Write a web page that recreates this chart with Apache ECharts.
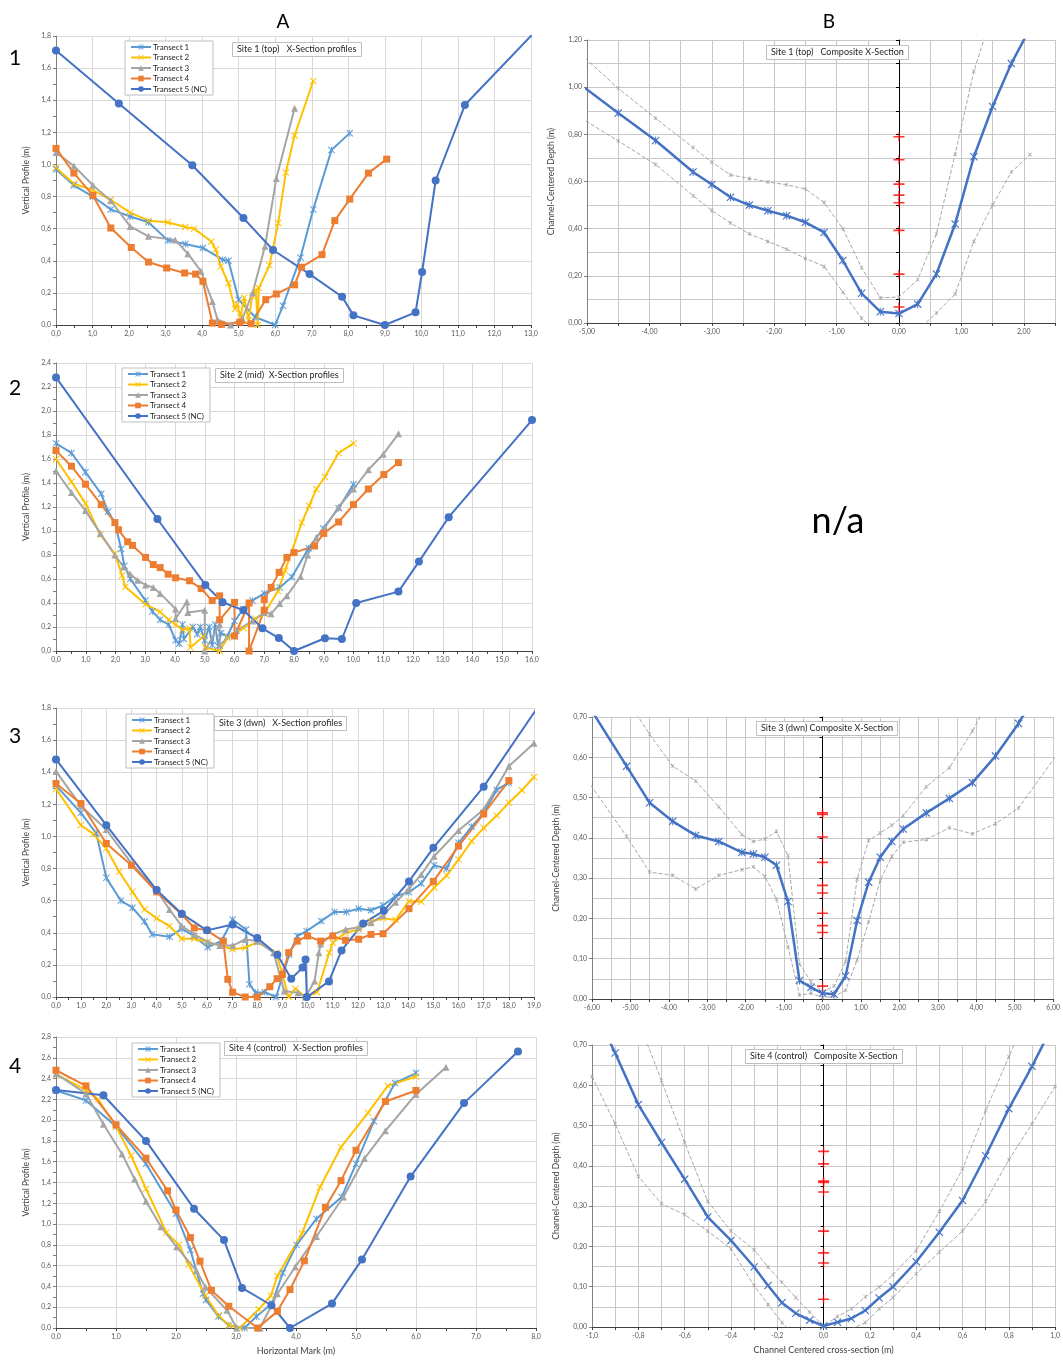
<!DOCTYPE html>
<html>
<head>
<meta charset="utf-8">
<script src="https://cdn.jsdelivr.net/npm/echarts@6/dist/echarts.min.js"></script>
<style>
html,body{margin:0;padding:0;background:#fff;}
#chart{width:1063px;height:1360px;}
</style>
</head>
<body>
<div id="chart"></div>
<script>
// ---- Site 1 (top) transects [horizontal mark, vertical profile]
const s1_t1 = [[0,0.97],[0.49,0.87],[1.01,0.80],[1.5,0.72],[2.03,0.676],[2.53,0.64],[3.06,0.527],[3.54,0.504],[4.02,0.48],[4.56,0.407],[4.72,0.40],[5.0,0.157],[5.45,0.05],[6.0,0.0],[6.21,0.12],[6.69,0.42],[7.04,0.72],[7.54,1.09],[8.04,1.195]];
const s1_t2 = [[0,0.98],[0.49,0.88],[1.01,0.84],[1.5,0.78],[2.03,0.70],[2.53,0.65],[3.06,0.64],[3.54,0.61],[3.78,0.60],[4.25,0.52],[4.37,0.47],[4.51,0.365],[4.72,0.26],[4.9,0.10],[4.96,0.13],[5.05,0.05],[5.15,0.17],[5.27,0.03],[5.37,0.18],[5.47,0.22],[5.52,0.0],[5.55,0.23],[5.84,0.37],[6.08,0.635],[6.29,0.95],[6.53,1.18],[7.04,1.52]];
const s1_t3 = [[0,1.075],[0.49,0.99],[1.01,0.87],[1.5,0.774],[2.03,0.614],[2.53,0.552],[3.26,0.53],[3.61,0.444],[3.97,0.334],[4.28,0.147],[4.42,0.033],[4.78,0.0],[5.1,0.04],[5.38,0.2],[5.72,0.49],[6.03,0.913],[6.53,1.35]];
const s1_t4 = [[0,1.10],[0.49,0.946],[1.01,0.807],[1.5,0.604],[2.06,0.483],[2.53,0.392],[3.03,0.355],[3.52,0.324],[3.82,0.317],[4.02,0.272],[4.28,0.012],[4.53,0.004],[5.03,0.017],[5.34,0.008],[5.74,0.158],[6.03,0.193],[6.53,0.25],[6.72,0.36],[7.28,0.438],[7.63,0.65],[8.04,0.784],[8.55,0.946],[9.05,1.033]];
const s1_t5 = [[0,1.71],[1.72,1.38],[3.73,0.995],[5.13,0.666],[5.94,0.467],[6.94,0.317],[7.83,0.176],[8.14,0.06],[9.0,0.0],[9.84,0.079],[10.02,0.33],[10.39,0.90],[11.19,1.37],[13.5,1.92]];

// ---- Site 1 composite (channel centered)
const c1_x   = [-5.1,-4.5,-3.9,-3.3,-3.0,-2.7,-2.4,-2.1,-1.8,-1.5,-1.2,-0.9,-0.6,-0.3,0,0.3,0.6,0.9,1.2,1.5,1.8,2.1];
const c1_mid = [1.01,0.89,0.774,0.64,0.587,0.533,0.50,0.476,0.455,0.427,0.384,0.265,0.126,0.048,0.04,0.08,0.208,0.42,0.705,0.918,1.10,1.25];
const c1_hi  = [1.14,0.995,0.868,0.744,0.682,0.628,0.613,0.598,0.586,0.568,0.511,0.40,0.235,0.107,0.11,0.184,0.378,0.717,1.067,1.32,1.6,1.85];
const c1_lo  = [0.87,0.772,0.672,0.54,0.477,0.424,0.378,0.346,0.313,0.274,0.24,0.131,0.02,-0.05,-0.06,-0.03,0.042,0.123,0.346,0.50,0.64,0.714];
const c1_red = [0.79,0.692,0.589,0.542,0.51,0.393,0.207,0.068];

// ---- Site 2 (mid) transects
const s2_t1 = [[0,1.73],[0.52,1.65],[0.99,1.49],[1.52,1.31],[1.75,1.16],[1.98,1.07],[2.19,0.85],[2.3,0.71],[2.5,0.60],[3.01,0.42],[3.24,0.33],[3.5,0.26],[3.79,0.22],[4.02,0.09],[4.14,0.06],[4.25,0.22],[4.3,0.1],[4.6,0.2],[4.75,0.14],[4.85,0.2],[5.0,0.09],[5.15,0.2],[5.25,0.05],[5.35,0.22],[5.45,0.04],[5.55,0.15],[5.75,0.12],[6.0,0.25],[6.3,0.35],[6.6,0.42],[7.0,0.48],[7.52,0.53],[7.93,0.617],[8.49,0.857],[8.98,1.02],[9.5,1.19],[10.0,1.39]];
const s2_t2 = [[0,1.60],[0.52,1.41],[0.99,1.23],[1.49,0.97],[1.98,0.81],[2.22,0.63],[2.33,0.535],[3.01,0.39],[3.5,0.326],[3.79,0.26],[4.02,0.22],[4.26,0.178],[4.49,0.19],[4.52,0.03],[4.95,0.12],[5.02,0.03],[5.5,0.0],[5.77,0.11],[6.3,0.19],[6.7,0.27],[7.0,0.31],[7.46,0.50],[7.7,0.67],[8.26,1.07],[8.51,1.21],[8.75,1.35],[9.04,1.45],[9.5,1.65],[10.0,1.73]];
const s2_t3 = [[0,1.5],[0.52,1.32],[0.99,1.17],[1.49,0.98],[1.98,0.80],[2.27,0.70],[2.5,0.64],[2.74,0.59],[3.01,0.55],[3.27,0.53],[3.5,0.48],[4.02,0.35],[4.02,0.27],[4.4,0.41],[4.43,0.32],[5.0,0.34],[5.0,0.0],[5.5,0.22],[5.5,0.05],[6.07,0.17],[6.6,0.25],[7.0,0.32],[7.23,0.31],[7.52,0.395],[7.76,0.46],[8.22,0.62],[8.46,0.80],[8.75,0.945],[9.04,1.03],[9.5,1.2],[10.0,1.35],[10.5,1.51],[11.0,1.64],[11.51,1.81]];
const s2_t4 = [[0,1.67],[0.52,1.54],[0.99,1.39],[1.52,1.22],[1.98,1.07],[2.1,1.01],[2.41,0.91],[2.57,0.88],[3.01,0.78],[3.27,0.72],[3.5,0.695],[3.77,0.64],[4.02,0.61],[4.49,0.585],[4.88,0.52],[5.25,0.42],[5.5,0.46],[5.5,0.26],[6.0,0.405],[6.0,0.125],[6.49,0.40],[6.49,0.0],[7.0,0.34],[7.0,0.43],[7.23,0.53],[7.5,0.655],[7.76,0.78],[8.0,0.82],[8.69,0.875],[9.0,0.98],[9.5,1.075],[10.0,1.22],[10.5,1.35],[11.02,1.47],[11.51,1.57]];
const s2_t5 = [[0,2.28],[3.41,1.10],[5.02,0.551],[5.6,0.406],[6.3,0.34],[6.94,0.189],[7.49,0.108],[8.0,0.0],[9.04,0.106],[9.61,0.10],[10.09,0.40],[11.51,0.495],[12.2,0.745],[13.2,1.115],[16.0,1.924]];

// ---- Site 3 (dwn) transects
const s3_t1 = [[0,1.317],[0.99,1.147],[1.6,1.02],[2.0,0.742],[2.58,0.60],[3.04,0.556],[3.52,0.47],[3.82,0.39],[4.51,0.375],[5.0,0.425],[5.48,0.38],[6.03,0.31],[6.58,0.35],[7.02,0.483],[7.55,0.42],[7.69,0.08],[7.93,0.027],[8.3,0.03],[8.75,0.0],[9.27,0.265],[9.59,0.38],[9.96,0.41],[10.54,0.473],[11.07,0.53],[11.55,0.53],[12.03,0.55],[12.52,0.54],[13.0,0.57],[13.48,0.628],[14.03,0.653],[14.52,0.707],[15.03,0.82],[15.53,0.80],[16.0,0.96],[16.52,1.06],[17.0,1.147],[17.52,1.29],[18.0,1.335]];
const s3_t2 = [[0,1.296],[0.99,1.07],[1.48,1.016],[2.0,0.925],[2.51,0.78],[3.04,0.655],[3.52,0.545],[4.0,0.49],[4.51,0.442],[5.0,0.363],[5.5,0.363],[6.03,0.342],[7.02,0.297],[7.52,0.307],[8.0,0.342],[8.75,0.276],[9.25,0.0],[9.51,0.052],[9.92,0.0],[10.38,0.03],[10.86,0.276],[11.0,0.338],[11.5,0.40],[12.03,0.42],[12.52,0.47],[13.0,0.49],[13.5,0.48],[14.03,0.597],[14.52,0.593],[15.03,0.68],[15.53,0.757],[16.0,0.856],[16.52,0.97],[17.0,1.053],[17.52,1.13],[18.0,1.21],[18.52,1.288],[19.0,1.37]];
const s3_t3 = [[0,1.405],[0.99,1.19],[2.0,1.043],[3.04,0.825],[4.0,0.664],[4.51,0.545],[5.0,0.442],[5.5,0.39],[6.03,0.344],[6.51,0.32],[7.02,0.32],[7.52,0.358],[8.0,0.348],[8.65,0.276],[9.07,0.037],[9.62,0.027],[9.92,0.0],[10.28,0.10],[10.45,0.276],[10.52,0.33],[11.0,0.39],[11.51,0.42],[12.03,0.435],[12.52,0.462],[13.0,0.508],[13.5,0.59],[14.03,0.674],[14.52,0.763],[15.03,0.877],[16.0,1.037],[17.0,1.168],[18.0,1.437],[19.0,1.58]];
const s3_t4 = [[0,1.33],[0.99,1.205],[2.0,0.956],[3.0,0.82],[4.0,0.655],[5.0,0.514],[5.5,0.43],[6.0,0.415],[6.65,0.348],[6.83,0.11],[7.02,0.03],[7.52,0.0],[8.0,0.0],[8.5,0.064],[8.79,0.114],[9.0,0.14],[9.25,0.276],[9.59,0.348],[10.0,0.38],[10.52,0.348],[11.0,0.38],[11.51,0.353],[12.03,0.36],[12.52,0.39],[13.0,0.394],[14.03,0.55],[15.0,0.72],[16.0,0.94],[17.0,1.14],[18.0,1.348]];
const s3_t5 = [[0,1.48],[2.0,1.07],[4.0,0.666],[5.0,0.518],[6.0,0.415],[7.02,0.452],[8.0,0.367],[8.8,0.263],[9.35,0.114],[9.8,0.183],[9.92,0.234],[9.97,0.0],[10.85,0.097],[11.35,0.29],[12.21,0.458],[13.03,0.537],[14.03,0.72],[15.0,0.929],[17.0,1.31],[19.5,1.885]];

// ---- Site 3 composite
const c3_x   = [-6.3,-5.1,-4.5,-3.9,-3.3,-2.7,-2.1,-1.8,-1.5,-1.2,-0.9,-0.6,-0.3,0,0.3,0.6,0.9,1.2,1.5,1.8,2.1,2.7,3.3,3.9,4.5,5.1,6.3];
const c3_mid = [0.76,0.578,0.487,0.441,0.406,0.391,0.364,0.36,0.352,0.332,0.242,0.046,0.029,0.014,0.012,0.057,0.195,0.29,0.352,0.391,0.422,0.462,0.498,0.537,0.603,0.684,0.88];
const c3_hi  = [0.84,0.745,0.657,0.578,0.541,0.477,0.408,0.391,0.397,0.416,0.356,0.087,0.043,0.018,0.032,0.093,0.298,0.394,0.412,0.431,0.455,0.527,0.574,0.665,0.77,0.87,1.0];
const c3_lo  = [0.567,0.404,0.315,0.307,0.273,0.307,0.321,0.328,0.304,0.248,0.13,0.01,0.014,0.004,0.006,0.022,0.097,0.192,0.294,0.354,0.389,0.396,0.425,0.41,0.435,0.474,0.633];
const c3_red = [0.462,0.458,0.402,0.339,0.282,0.263,0.213,0.182,0.165,0.032];

// ---- Site 4 (control) transects
const s4_t1 = [[0,2.285],[0.5,2.19],[1.0,1.94],[1.5,1.58],[2.0,1.10],[2.24,0.75],[2.45,0.33],[2.5,0.27],[2.71,0.11],[2.88,0.026],[3.14,0.0],[3.34,0.11],[3.6,0.235],[3.78,0.53],[4.01,0.80],[4.34,1.05],[4.76,1.26],[5.0,1.58],[5.3,1.99],[5.65,2.357],[6.0,2.453]];
const s4_t2 = [[0,2.44],[0.5,2.29],[0.7,2.2],[1.0,1.94],[1.25,1.66],[1.5,1.34],[1.84,0.92],[2.05,0.80],[2.21,0.61],[2.49,0.31],[2.71,0.12],[2.88,0.026],[3.06,0.0],[3.38,0.18],[3.58,0.31],[3.69,0.50],[4.1,0.91],[4.4,1.355],[4.75,1.74],[5.2,2.07],[5.53,2.33],[6.0,2.42]];
const s4_t3 = [[0,2.447],[0.5,2.254],[0.79,1.96],[1.1,1.675],[1.31,1.434],[1.5,1.22],[1.75,0.974],[2.01,0.781],[2.34,0.55],[2.49,0.395],[2.85,0.17],[3.01,0.0],[3.4,0.0],[3.69,0.33],[3.99,0.59],[4.34,0.88],[4.79,1.26],[5.14,1.63],[5.49,1.897],[6.0,2.25],[6.5,2.51]];
const s4_t4 = [[0,2.48],[0.5,2.33],[1.0,1.956],[1.5,1.634],[1.86,1.32],[2.0,1.135],[2.24,0.87],[2.4,0.643],[2.59,0.363],[2.88,0.209],[3.36,0.0],[3.69,0.16],[3.9,0.37],[4.14,0.646],[4.49,1.16],[4.75,1.418],[5.0,1.71],[5.49,2.18],[6.0,2.285]];
const s4_t5 = [[0,2.29],[0.79,2.24],[1.5,1.80],[2.3,1.148],[2.8,0.846],[3.1,0.386],[3.59,0.219],[3.9,0.0],[4.6,0.235],[5.1,0.66],[5.91,1.457],[6.8,2.164],[7.7,2.66]];

// ---- Site 4 composite
const c4_x   = [-1.0,-0.9,-0.8,-0.7,-0.6,-0.5,-0.4,-0.3,-0.24,-0.18,-0.12,-0.06,0,0.06,0.12,0.18,0.24,0.3,0.4,0.5,0.6,0.7,0.8,0.9,1.0];
const c4_mid = [0.80,0.68,0.552,0.458,0.367,0.273,0.215,0.149,0.103,0.06,0.034,0.017,0.0025,0.012,0.021,0.041,0.072,0.10,0.162,0.235,0.314,0.425,0.542,0.647,0.76];
const c4_hi  = [1.0,0.9,0.76,0.612,0.458,0.312,0.238,0.192,0.149,0.111,0.073,0.037,0.002,0.026,0.045,0.075,0.099,0.13,0.19,0.287,0.392,0.537,0.671,0.8,0.92];
const c4_lo  = [0.622,0.504,0.374,0.306,0.279,0.238,0.194,0.103,0.056,0.011,-0.02,-0.04,-0.05,-0.04,-0.005,0.011,0.045,0.073,0.132,0.186,0.238,0.312,0.415,0.504,0.597];
const c4_red = [0.436,0.405,0.362,0.359,0.335,0.238,0.184,0.159,0.069];

const transectNames = ['Transect 1','Transect 2','Transect 3','Transect 4','Transect 5 (NC)'];

// 标记形状
const X_MARK = 'path://M1,0L5,4L9,0L10,1L6,5L10,9L9,10L5,6L1,10L0,9L4,5L0,1Z';
const STAR_MARK = X_MARK + 'M4.4,0H5.6V10H4.4Z';
const PLUS_MARK = 'path://M0,4.1H10V5.9H0ZM4.4,0H5.6V10H4.4Z';

const tStyle = [
  {color:'#5B9BD5', symbol:STAR_MARK, size:7},
  {color:'#FFC000', symbol:X_MARK, size:7},
  {color:'#A5A5A5', symbol:'triangle', size:7},
  {color:'#ED7D31', symbol:'rect', size:7},
  {color:'#4472C4', symbol:'circle', size:8}
];

const FONT = 'Lato, "Liberation Sans", sans-serif';
const LABEL = '#595959';
const fmt = d => v => (Math.abs(v) < 1e-9 ? 0 : v).toFixed(d).replace('.', ',');

const grids = [
  {left:56, top:36, width:475, height:289},   // 1A
  {left:587, top:40, width:468, height:283},  // 1B
  {left:56, top:363, width:476, height:288},  // 2A
  {left:56, top:708, width:478, height:289},  // 3A
  {left:592, top:717, width:470, height:282}, // 3B
  {left:56, top:1037, width:480, height:291}, // 4A
  {left:592, top:1045, width:468, height:282} // 4B
];

const xAxis = [];
const yAxis = [];
const series = [];

function xAx(gi, min, max, interval, dec, minorSplit, name, hideMax) {
  xAxis.push({
    gridIndex: gi, type: 'value', min: min, max: max, interval: interval,
    name: name || '', nameLocation: 'middle', nameGap: 19,
    nameTextStyle: {fontSize: 9, color: '#404040', fontFamily: FONT},
    axisLine: {show: true, onZero: false, lineStyle: {color: '#404040', width: 1}},
    axisTick: {show: true, length: 3, lineStyle: {color: '#404040'}},
    minorTick: {show: true, splitNumber: 2, length: 3, lineStyle: {color: '#404040'}},
    splitLine: {show: true, lineStyle: {color: minorSplit ? '#c8c8c8' : '#d9d9d9', width: 1}},
    minorSplitLine: {show: !!minorSplit, lineStyle: {color: '#c8c8c8', width: 1}},
    axisLabel: {fontSize: 7, color: LABEL, fontFamily: FONT, margin: 5, formatter: fmt(dec), showMaxLabel: !hideMax}
  });
  return xAxis.length - 1;
}

function yAx(gi, max, interval, dec, name, gap, minorSplit) {
  yAxis.push({
    gridIndex: gi, type: 'value', min: 0, max: max, interval: interval, position: 'left',
    name: name, nameLocation: 'middle', nameGap: gap,
    nameTextStyle: {fontSize: 8.5, color: '#404040', fontFamily: FONT},
    axisLine: {show: true, onZero: false, lineStyle: {color: '#808080'}},
    axisTick: {show: true, length: 3, lineStyle: {color: '#808080'}},
    minorTick: {show: !minorSplit, splitNumber: 2, length: 3, lineStyle: {color: '#808080'}},
    splitLine: {show: true, lineStyle: {color: minorSplit ? '#c8c8c8' : '#d9d9d9'}},
    minorSplitLine: {show: !!minorSplit, lineStyle: {color: '#c8c8c8'}},
    axisLabel: {fontSize: 7, color: LABEL, fontFamily: FONT, margin: 5, formatter: fmt(dec)}
  });
  return yAxis.length - 1;
}

// B面板中心的黑色竖线（x=0）
function centerAx(gi, max, step) {
  yAxis.push({
    gridIndex: gi, type: 'value', min: 0, max: max, interval: step, position: 'left',
    axisLine: {show: true, onZero: true, lineStyle: {color: '#000', width: 1}},
    axisTick: {show: true, length: 3, lineStyle: {color: '#000'}},
    axisLabel: {show: false}, splitLine: {show: false}
  });
  return yAxis.length - 1;
}

function transectPanel(xi, yi, sets) {
  sets.forEach((d, k) => {
    const st = tStyle[k];
    series.push({
      name: transectNames[k], type: 'line', xAxisIndex: xi, yAxisIndex: yi, data: d,
      symbol: st.symbol, symbolSize: st.size, showSymbol: true, clip: true,
      lineStyle: {color: st.color, width: 2}, itemStyle: {color: st.color},
      emphasis: {disabled: true}
    });
  });
}

function compositePanel(xi, yi, ci, xs, mid, hi, lo, red, midSymbol) {
  const pair = ys => xs.map((x, i) => [x, ys[i]]);
  [hi, lo].forEach((ys, k) => {
    series.push({
      name: k ? 'lower' : 'upper', type: 'line', xAxisIndex: xi, yAxisIndex: yi, data: pair(ys),
      symbol: STAR_MARK, symbolSize: 4, clip: true,
      lineStyle: {color: '#a6a6a6', width: 1, type: [4, 2]}, itemStyle: {color: '#a6a6a6'},
      emphasis: {disabled: true}
    });
  });
  series.push({
    name: 'composite', type: 'line', xAxisIndex: xi, yAxisIndex: yi, data: pair(mid),
    symbol: midSymbol, symbolSize: 8, clip: true,
    lineStyle: {color: '#4472C4', width: 2.5}, itemStyle: {color: '#4472C4'},
    emphasis: {disabled: true}
  });
  series.push({
    name: 'depths', type: 'scatter', xAxisIndex: xi, yAxisIndex: ci,
    data: red.map(v => [0, v]), symbol: PLUS_MARK, symbolSize: [11, 9],
    itemStyle: {color: '#ff0000'}, emphasis: {disabled: true}, z: 5
  });
}

const VP = 'Vertical Profile (m)';
const CD = 'Channel-Centered Depth (m)';

// 1A
let xi = xAx(0, 0, 13, 1, 1);
let yi = yAx(0, 1.8, 0.2, 1, VP, 25);
transectPanel(xi, yi, [s1_t1, s1_t2, s1_t3, s1_t4, s1_t5]);
// 1B
xi = xAx(1, -5, 2.5, 1, 2, true, '', true);
yi = yAx(1, 1.2, 0.2, 2, CD, 31, true);
let ci = centerAx(1, 1.2, 0.1);
compositePanel(xi, yi, ci, c1_x, c1_mid, c1_hi, c1_lo, c1_red, STAR_MARK);
// 2A
xi = xAx(2, 0, 16, 1, 1);
yi = yAx(2, 2.4, 0.2, 1, VP, 25);
transectPanel(xi, yi, [s2_t1, s2_t2, s2_t3, s2_t4, s2_t5]);
// 3A
xi = xAx(3, 0, 19, 1, 1);
yi = yAx(3, 1.8, 0.2, 1, VP, 25);
transectPanel(xi, yi, [s3_t1, s3_t2, s3_t3, s3_t4, s3_t5]);
// 3B
xi = xAx(4, -6, 6, 1, 2, true);
yi = yAx(4, 0.7, 0.1, 2, CD, 31, true);
ci = centerAx(4, 0.7, 0.05);
compositePanel(xi, yi, ci, c3_x, c3_mid, c3_hi, c3_lo, c3_red, STAR_MARK);
// 4A
xi = xAx(5, 0, 8, 1, 1, false, 'Horizontal Mark (m)');
yi = yAx(5, 2.8, 0.2, 1, VP, 25);
transectPanel(xi, yi, [s4_t1, s4_t2, s4_t3, s4_t4, s4_t5]);
// 4B
xi = xAx(6, -1, 1, 0.2, 1, true, 'Channel Centered cross-section (m)');
yi = yAx(6, 0.7, 0.1, 2, CD, 31, true);
ci = centerAx(6, 0.7, 0.05);
compositePanel(xi, yi, ci, c4_x, c4_mid, c4_hi, c4_lo, c4_red, X_MARK);

function boxTitle(text, left, top) {
  return {
    text: text, left: left, top: top, padding: [3, 5],
    borderColor: '#bfbfbf', borderWidth: 1, backgroundColor: '#fff',
    textStyle: {fontSize: 9, fontWeight: 'normal', color: '#262626', fontFamily: FONT}
  };
}
const titles = [
  boxTitle('Site 1 (top)   X-Section profiles', 232, 42),
  boxTitle('Site 1 (top)   Composite X-Section', 766, 45),
  boxTitle('Site 2 (mid)  X-Section profiles', 215, 368),
  boxTitle('Site 3 (dwn)   X-Section profiles', 214, 716),
  boxTitle('Site 3 (dwn) Composite X-Section', 756, 721),
  boxTitle('Site 4 (control)   X-Section profiles', 224, 1041),
  boxTitle('Site 4 (control)   Composite X-Section', 745, 1049)
];

function legendAt(left, top) {
  return {
    data: transectNames, left: left, top: top, orient: 'vertical',
    itemGap: 2.5, itemWidth: 20, itemHeight: 7, padding: [2, 6, 2, 5],
    borderColor: '#bfbfbf', borderWidth: 1, backgroundColor: '#fff',
    selectedMode: false,
    textStyle: {fontSize: 8, color: '#262626', fontFamily: FONT, padding: [0, 0, 0, -3]}
  };
}
const legends = [legendAt(125, 41), legendAt(122, 368), legendAt(126, 714), legendAt(132, 1043)];

function label(text, x, y, size) {
  return {type: 'text', x: x, y: y, style: {text: text, font: size + 'px ' + FONT, fill: '#000', align: 'center', verticalAlign: 'middle'}};
}

const chart = echarts.init(document.getElementById('chart'));
chart.setOption({
  animation: false,
  backgroundColor: '#fff',
  grid: grids,
  xAxis: xAxis,
  yAxis: yAxis,
  title: titles,
  legend: legends,
  series: series,
  graphic: [
    label('A', 283, 22, 19),
    label('B', 829, 22, 19),
    label('1', 15, 58, 21),
    label('2', 15, 388, 21),
    label('3', 15, 736, 21),
    label('4', 15, 1066, 21),
    label('n/a', 838, 521, 36)
  ]
});
</script>
</body>
</html>
